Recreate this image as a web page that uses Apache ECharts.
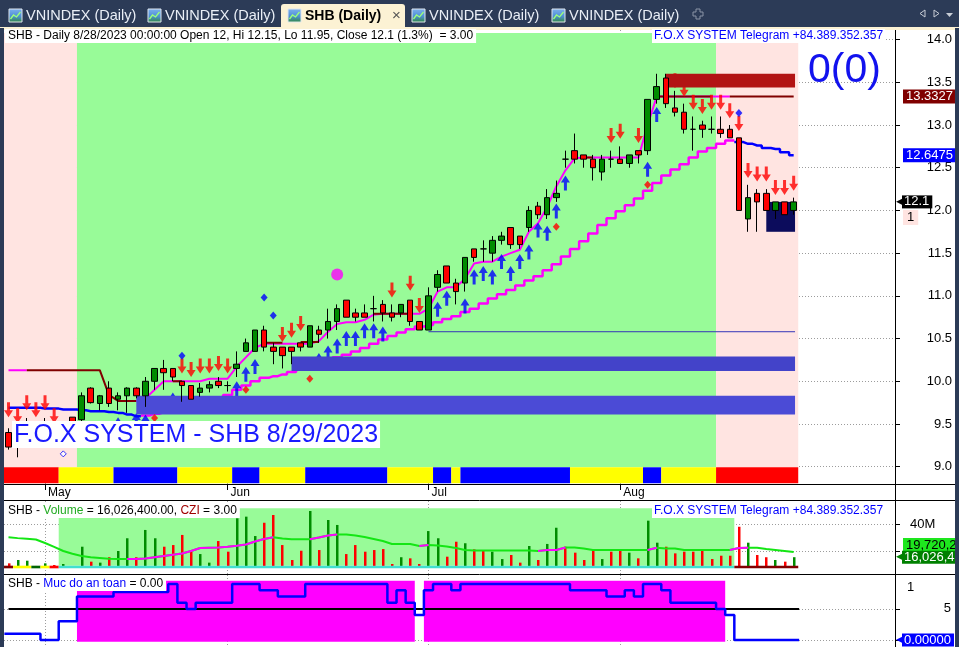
<!DOCTYPE html>
<html>
<head>
<meta charset="utf-8">
<title>SHB (Daily)</title>
<script src="https://cdn.jsdelivr.net/npm/echarts@6.0.0/dist/echarts.min.js"></script>
<style>
  html, body { margin: 0; padding: 0; background: #ffffff; overflow: hidden; }
  #chart { width: 959px; height: 647px; }
</style>
</head>
<body>
<div id="chart"></div>
<script>
// ================= DATA =================
const monthIdx   = [4, 24, 46, 67];
const monthNames = ['May', 'Jun', 'Jul', 'Aug'];

const open = [
  9.40, 9.25, 9.35, 9.45, 9.40, 9.45, 9.35, 9.58, 9.55, 9.92,
  9.74, 9.92, 9.79, 9.83, 9.92, 9.83,10.00,10.15,10.15,10.00,
  9.95, 9.87, 9.92,10.00, 9.95,10.15,10.35,10.35,10.60,10.40,
 10.40,10.40,10.45,10.40,10.60,10.60,10.70,10.95,10.80,10.80,
 10.85,10.90,10.80,10.80,10.95,10.70,10.60,11.10,11.35,11.15,
 11.15,11.55,11.55,11.50,11.65,11.80,11.70,11.80,12.05,11.95,
 12.15,12.60,12.70,12.65,12.60,12.45,12.60,12.60,12.55,12.70,
 12.70,13.30,13.55,13.20,13.15,12.95,13.00,12.95,12.95,12.95,
 12.85,11.90,12.20,12.20,12.00,12.10,12.00];
const high = [
  9.45, 9.35, 9.57, 9.50, 9.57, 9.50, 9.45, 9.58, 9.87, 9.93,
  9.84,10.00, 9.87, 9.93, 9.93,10.05,10.15,10.25,10.15,10.00,
  9.95, 9.98,10.00,10.05,10.00,10.35,10.50,10.60,10.65,10.45,
 10.40,10.40,10.45,10.65,10.65,10.85,10.90,10.95,10.85,10.90,
 11.00,10.95,10.90,10.90,10.95,10.70,11.10,11.30,11.35,11.20,
 11.45,11.55,11.65,11.70,11.75,11.80,11.70,12.05,12.10,12.25,
 12.35,12.70,12.90,12.65,12.65,12.65,12.70,12.75,12.65,12.70,
 13.30,13.60,13.60,13.40,13.25,13.10,13.05,13.10,13.10,13.00,
 12.85,12.30,12.25,12.25,12.10,12.10,12.15];
const low = [
  9.20, 9.11, 9.30, 9.30, 9.35, 9.30, 9.30, 9.40, 9.50, 9.74,
  9.66, 9.70, 9.66, 9.63, 9.80, 9.70, 9.90, 9.90,10.00, 9.76,
  9.79, 9.82, 9.87, 9.92, 9.88,10.05,10.35,10.35,10.35,10.20,
 10.15,10.20,10.35,10.40,10.45,10.50,10.60,10.75,10.70,10.75,
 10.70,10.70,10.70,10.75,10.65,10.60,10.60,11.05,11.15,10.90,
 11.05,11.40,11.40,11.40,11.60,11.55,11.55,11.75,11.90,11.90,
 12.10,12.50,12.55,12.50,12.35,12.35,12.50,12.55,12.50,12.55,
 12.65,13.25,13.20,13.10,12.90,12.70,12.85,12.90,12.85,12.85,
 12.00,11.75,11.75,12.00,11.90,11.95,11.95];
const close = [
  9.23, 9.30, 9.45, 9.40, 9.45, 9.35, 9.40, 9.45, 9.83, 9.75,
  9.83, 9.74, 9.83, 9.92, 9.83,10.00,10.15,10.10,10.05, 9.95,
  9.79, 9.92, 9.96, 9.95, 9.95,10.20,10.45,10.60,10.40,10.35,
 10.30,10.35,10.40,10.65,10.55,10.70,10.85,10.75,10.75,10.75,
 10.85,10.80,10.75,10.90,10.70,10.60,11.00,11.25,11.15,11.05,
 11.45,11.45,11.55,11.65,11.70,11.60,11.60,12.00,11.95,12.15,
 12.20,12.60,12.60,12.60,12.50,12.60,12.60,12.55,12.65,12.65,
 13.30,13.45,13.25,13.15,12.95,12.95,12.95,12.95,12.90,12.85,
 12.00,12.15,12.10,12.00,12.10,11.95,12.10];
// volume in millions of shares
const volume = [
 11.6,14.0,13.5, 9.7,11.6,10.4,11.1, 9.2,23.6,12.8,
 12.1,16.0,20.5,29.7,16.0,35.7,29.7,23.6,24.8,32.1,
 20.0,18.3,12.1,27.7,20.0,44.1,45.3,31.3,40.9,46.5,
 24.8,14.0,20.7,49.4,21.2,42.9,39.3,18.3,24.8,20.0,
 21.2,21.9,11.1,16.0,15.2,11.1,34.9,29.7,16.4,27.2,
 26.1,21.7,21.2,20.0,14.7,17.6,12.1,24.1,14.0,25.6,
 37.3,23.6,19.3,14.0,20.7,14.7,20.0,21.2,19.3,15.2,
 42.4,26.5,23.6,18.8,20.0,20.0,21.7,14.7,17.1,17.1,
 38.0,26.5,17.6,16.0,14.0,12.8,16.0264];
const volumeMA = [
 30.4,29.8,29.3,28.8,26.3,23.5,20.5,18.5,16.9,16.0,
 15.5,14.9,14.7,14.7,14.8,15.1,16.0,16.9,17.8,18.7,
 20.5,22.7,22.9,23.0,23.6,24.3,25.2,27.4,29.2,30.4,
 29.5,29.0,29.0,29.0,30.3,31.7,32.4,32.4,31.7,30.6,
 29.2,27.7,25.6,25.6,25.6,24.1,24.8,24.5,23.8,22.7,
 21.2,20.9,20.9,20.9,20.9,20.9,20.9,20.9,20.5,21.2,
 21.2,23.0,23.0,22.3,21.2,21.2,21.2,21.2,21.2,21.2,
 21.2,22.9,22.3,22.3,21.2,21.2,21.2,21.2,21.2,21.2,
 22.7,22.9,22.9,21.9,21.2,20.5,19.72023];
// fast trailing stop (magenta), resistance (dark red), slow stop (magenta/blue)
const fastStop = [
 10.13,10.13,10.13,null,null,null,null,null,null,null,
 null,null,null,9.77,9.77,9.80,9.90,10.00,10.00,10.00,
 10.00,10.00,10.03,10.03,10.03,10.17,10.28,10.39,10.44,10.44,
 10.44,10.44,10.44,10.44,10.47,10.58,10.67,10.69,10.69,10.72,
 10.78,10.79,10.79,10.79,10.79,10.79,10.85,11.05,11.10,11.10,
 11.20,11.38,11.40,11.40,11.46,11.50,11.54,11.75,11.85,12.04,
 12.28,12.47,12.61,12.62,12.62,12.62,12.62,12.62,12.62,12.62,
 13.00,13.3327,13.3327,13.3327,13.3327,13.3327,13.3327,13.3327,13.3327,13.3327,
 null,null,null,null,null,null,null];
const resistance = [
 null,null,10.13,10.13,10.13,10.13,10.13,10.13,10.13,10.13,
 10.13,9.84,9.77,9.77,9.77,null,null,null,10.00,10.00,
 null,null,null,null,null,null,null,null,10.45,10.45,
 10.45,null,10.46,10.46,10.46,null,null,null,null,null,
 10.79,10.79,10.79,10.79,10.79,null,null,null,null,null,
 null,null,null,null,null,null,null,null,null,null,
 null,null,null,12.62,12.62,null,null,null,null,null,
 null,13.3327,13.3327,13.3327,13.3327,13.3327,13.3327,13.3327,null,13.3327,
 13.3327,13.3327,13.3327,13.3327,13.3327,13.3327,13.3327];
const slowStop = [
  9.69, 9.69, 9.69, 9.69, 9.68, 9.68, 9.67, 9.67, 9.66, 9.65,
  9.65, 9.64, 9.63, 9.61, 9.59, 9.60, 9.62, 9.64, 9.66, 9.68,
  9.70, 9.73, 9.76, 9.80, 9.84, 9.90, 9.95,10.00,10.04,10.06,
 10.08,10.11,10.15,10.18,10.21,10.24,10.28,10.31,10.35,10.39,
 10.44,10.49,10.53,10.57,10.61,10.64,10.66,10.69,10.73,10.76,
 10.81,10.85,10.91,10.97,11.02,11.07,11.12,11.18,11.23,11.30,
 11.37,11.46,11.55,11.64,11.73,11.83,11.91,11.99,12.06,12.14,
 12.23,12.32,12.41,12.48,12.54,12.62,12.69,12.73,12.78,12.82,
 12.80,12.78,12.76,12.73,12.72,12.68,12.6475];
// per-bar state codes
const slowTrend   = 'DDDDDDDDDD DDDDDUUUUU UUUUUUUUUU UUUUUUUUUU UUUUUUUUUU UUUUUUUUUU UUUUUUUUUU UUUUUUUUUU DDDDDDD'.replace(/ /g, '').split('');
const trendZone   = 'PPPPPPPPGG GGGGGGGGGG GGGGGGGGGG GGGGGGGGGG GGGGGGGGGG GGGGGGGGGG GGGGGGGGGG GGGGGGGGPP PPPPPPP'.replace(/ /g, '').split('');
const signalStrip = 'RRRRRR YYYYYY BBBBBBB YYYYYY BBB YYYYY BBBBBBBBB YYYYY BB Y BBBBBBBBBBBB YYYYYYYY BB YYYYYY RRRRRRRRR'.replace(/ /g, '').split('');
const volumeZone  = '------GGGG GGGGGGGGGG GGGGGGGGGG GGGGGGGGGG GGGGGGGGGG GGGGGGGGGG GGGGGGGGGG GGGGGGGGGG -------'.replace(/ /g, '').split('');
const volumeStrip = 'MYYKYRCCCC CCCCCCCCCC CCCCCCCCCC CCCCCCCCCC CCCCCCCCCC CCCCCCCCCC CCCCCCCCCC CCCCCCCCCC MMMMMMM'.replace(/ /g, '').split('');
const safety = [
 10,10,10,10, 0, 0,30,30,70,70,
 70,70,77,77,77,77,77,77,90,60,
 50,60,60,60,60,90,90,90,80,80,
 70,70,70,90,90,90,90,90,90,90,
 90,90,60,80,60,40,80,90,90,80,
 90,90,90,90,90,90,90,90,90,90,
 90,90,80,80,80,80,70,70,80,70,
 90,90,80,60,60,60,60,60,50,40,
  0, 0, 0, 0, 0, 0, 0];
const safeZone    = '00000000 1111111111 1111111111 1111111111 1111111 0 1111111111 1111111111 1111111111 111 00000000'.replace(/ /g, '').split('');
const safetyLevel = 50;
// signals: [bar, price]
const sellArrows = [[0,9.58],[1,9.51],[2,9.66],[3,9.58],[4,9.66],[5,9.51],[19,10.09],[20,10.05],[21,10.09],[22,10.09],[23,10.12],[24,10.09],
  [30,10.46],[31,10.51],[32,10.59],[42,10.98],[44,11.06],[45,10.80],[66,12.79],[67,12.84],[69,12.79],[73,13.43],[74,13.33],[75,13.18],
  [76,13.13],[77,13.18],[78,13.18],[79,13.08],[80,12.93],[81,12.38],[82,12.34],[83,12.34],[84,12.18],[85,12.18],[86,12.23]];
const buyArrows = [[12,9.58],[14,9.63],[15,9.61],[18,9.87],[25,10.00],[26,10.17],[27,10.26],[34,10.33],[35,10.42],[36,10.50],[37,10.59],
  [38,10.59],[39,10.68],[40,10.68],[41,10.64],[47,10.93],[48,11.06],[50,10.97],[51,11.31],[52,11.35],[53,11.31],[54,11.49],[55,11.35],
  [56,11.49],[57,11.60],[58,11.86],[59,11.82],[60,12.08],[61,12.41],[70,12.57],[71,13.21]];
const blueDots   = [[19,10.30],[28,10.98],[29,10.77],[80,13.14]];
const redDots    = [[16,9.57],[26,9.90],[33,10.03],[60,11.81],[70,12.30]];
const bigDots    = [[36,11.25]];
const hollowDots = [[6,9.15]];
// horizontal zones: start bar, end bar, low, high
const bandFrom = [14, 31, 72, 83];
const bandTo   = [86, 86, 86, 86];
const bandLow  = [9.61, 10.12, 13.44, 11.75];
const bandHigh = [9.83, 10.29, 13.60, 12.10];
const supportFrom = 46, supportTo = 86, supportLevel = 10.58;
const oneMarker = 11.917;   // the small "1" tag under the last price

// ================= LAYOUT / STYLE =================
const N = open.length;
const FONT = "'Liberation Sans', Arial, sans-serif";
const X_MIN = -0.4929, X_MAX = 97.0987;
const P_MIN = 8.7974,  P_MAX = 14.1124;
const V_MIN = 3.9,     V_MAX = 56.6;
const S_MIN = -11.25,  S_MAX = 104.47;
const ZONE_LO = 8.993, ZONE_HI = 14.077, STRIP_LO = 8.806;
const VZONE_LO = 9.9, VZONE_HI = 51.3, VSTRIP_LO = 8.0, VOL_BASE = 9.0;
const FILL_LO = -2.7, FILL_HI = 95.3;
const GREEN = '#008c00', RED = '#ff0000', MAGENTA = '#ff00ff', BLUE = '#0000ff', MAROON = '#800000';
const zoneColor  = {P: '#ffe4e1', G: '#98fb98'};
const stripColor = {R: '#ff0000', Y: '#ffff00', B: '#0000ff'};
const vStripColor = {M: '#800000', Y: '#ffff00', K: '#006400', R: '#ff0000', C: '#40e0d0'};
const bandColor = ['#4b4bd6', '#4343c9', '#b21414', '#0c0c5c'];
const NAVY = '#2c3b57', CREAM = '#fcf2d4';

// ================= BUILD =================
function runs(codes) {
  const out = []; let s = 0;
  for (let i = 1; i <= codes.length; i++) {
    if (i === codes.length || codes[i] !== codes[s]) { out.push([s, i - 1, codes[s]]); s = i; }
  }
  return out;
}
function rectItem(params, api) {
  const a = api.coord([api.value(0), api.value(3)]);
  const b = api.coord([api.value(1), api.value(2)]);
  return {type: 'rect', shape: {x: a[0], y: a[1], width: b[0] - a[0], height: b[1] - a[1]},
          style: {fill: api.visual('color')}};
}
function rectSeries(name, gi, yi, z, items) {
  return {type: 'custom', name, xAxisIndex: gi, yAxisIndex: yi, z, silent: true,
          renderItem: rectItem, encode: {x: [0, 1], y: [2, 3]}, data: items};
}
function runRects(codes, colors, lo, hi) {
  return runs(codes).filter(r => colors[r[2]]).map(([a, b, c]) =>
    ({value: [a - 0.5, b + 0.5, lo, hi], itemStyle: {color: colors[c]}}));
}
const pts = arr => arr.map((v, i) => [i, v]);
const isUp = i => close[i] > open[i];

const candleData = open.map((o, i) => [i, o, close[i], low[i], high[i]]);
const slowUp   = slowStop.map((v, i) => [i, slowTrend[i] === 'U' ? v : null]);
const slowDown = slowStop.map((v, i) => [i, slowTrend[i] === 'D' ? v : null]);
const maRise = volumeMA.map((v, i) => {
  const r = (i > 0 && v > volumeMA[i - 1]) || (i < N - 1 && volumeMA[i + 1] > v);
  return [i, r ? v : null];
});
const safetyLine = [[-0.45, safety[0]]].concat(pts(safety), [[N - 0.4, safety[N - 1]]]);

const fmt = v => String(+v.toFixed(2));
const L = N - 1;
const pct = ((close[L] - close[L - 1]) / close[L - 1] * 100).toFixed(1);
const titleText = `SHB - Daily 8/28/2023 00:00:00 Open ${fmt(open[L])}, Hi ${fmt(high[L])}, Lo ${fmt(low[L])}, Close ${fmt(close[L])} (${pct}%)  = 3.00`;
const volText = Math.round(volume[L] * 1e6).toLocaleString('en-US') + '.00';
const volMAText = Math.round(volumeMA[L] * 1e6).toLocaleString('en-US');

const downArrow = 'path://M3,0 L6,0 L6,8 L9,8 L4.5,15 L0,8 L3,8 Z';
const upArrow   = 'path://M4.5,0 L9,7 L6,7 L6,15 L3,15 L3,7 L0,7 Z';

function markerAxis(gi, min, max, value, label) {
  return {type: 'value', gridIndex: gi, position: 'right', min, max,
    axisLine: {show: false, onZero: false}, axisTick: {show: false}, splitLine: {show: false},
    axisLabel: Object.assign({customValues: [value], margin: 8, align: 'left', fontSize: 13,
      fontFamily: FONT, lineHeight: 14}, label)};
}
function pointer(bg, fg, text) {
  return {
    margin: 1,
    formatter: () => '{p|◀}{b|' + text + '}',
    rich: {
      p: {color: bg, fontSize: 16, fontFamily: 'DejaVu Sans', lineHeight: 14, width: 6, align: 'left'},
      b: {color: fg, backgroundColor: bg, fontSize: 13, fontFamily: FONT, lineHeight: 14, padding: [0, 3, 0, 2]}
    }
  };
}
const dotted = {color: '#9c9c9c', type: [1, 2], width: 1};

const xBase = gi => ({
  type: 'value', gridIndex: gi, min: X_MIN, max: X_MAX,
  axisLine: {show: gi === 0, onZero: false, lineStyle: {color: '#000'}},
  axisTick: {show: gi === 0, customValues: monthIdx, length: 6, lineStyle: {color: '#000'}},
  axisLabel: gi === 0 ? {customValues: monthIdx, formatter: v => monthNames[monthIdx.indexOf(Math.round(v))] || '',
      align: 'left', margin: 3, padding: [0, 0, 0, 3], fontSize: 12, color: '#000', fontFamily: FONT}
    : {show: false},
  splitLine: {show: true, lineStyle: dotted}
});

const priceTicks = [9, 9.5, 10, 10.5, 11, 11.5, 12, 12.5, 13, 13.5, 14];

const yAxes = [
  // 0 main price
  {type: 'value', gridIndex: 0, position: 'right', min: P_MIN, max: P_MAX,
   axisLine: {show: true, onZero: false, lineStyle: {color: '#000'}},
   axisTick: {show: true, customValues: priceTicks, length: 5, lineStyle: {color: '#000'}},
   axisLabel: {customValues: priceTicks, formatter: v => v.toFixed(1), align: 'right', margin: 57,
     fontSize: 13, color: '#000', fontFamily: FONT},
   splitLine: {show: true, lineStyle: dotted}},
  // 1..4 markers
  markerAxis(0, P_MIN, P_MAX, resistance[L], {formatter: v => v.toFixed(4), color: '#fff', backgroundColor: MAROON, padding: [0, 2, 0, 3]}),
  markerAxis(0, P_MIN, P_MAX, slowStop[L], {formatter: v => v.toFixed(4), color: '#fff', backgroundColor: BLUE, padding: [0, 2, 0, 3]}),
  markerAxis(0, P_MIN, P_MAX, close[L], pointer('#000', '#fff', fmt(close[L]))),
  markerAxis(0, P_MIN, P_MAX, oneMarker, {formatter: () => '1', color: '#000', backgroundColor: '#ffe4e1', padding: [1, 4, 0, 4]}),
  // 5 volume
  {type: 'value', gridIndex: 1, position: 'right', min: V_MIN, max: V_MAX,
   axisLine: {show: true, onZero: false, lineStyle: {color: '#000'}},
   axisTick: {show: true, customValues: [20, 40], length: 5, lineStyle: {color: '#000'}},
   axisLabel: {customValues: [40], formatter: v => Math.round(v) + 'M', align: 'left', margin: 15,
     fontSize: 13, color: '#000', fontFamily: FONT},
   splitLine: {show: true, lineStyle: dotted}},
  // 6,7 volume markers
  markerAxis(1, V_MIN, V_MAX, volumeMA[L], {formatter: () => volMAText, color: '#000', backgroundColor: '#1ee61e',
    verticalAlign: 'bottom', padding: [0, 2, 0, 3]}),
  markerAxis(1, V_MIN, V_MAX, volume[L], pointer('#008000', '#fff', Math.round(volume[L] * 1e6).toLocaleString('en-US'))),
  // 8 safety
  {type: 'value', gridIndex: 2, position: 'right', min: S_MIN, max: S_MAX,
   axisLine: {show: true, onZero: false, lineStyle: {color: '#000'}},
   axisTick: {show: true, customValues: [0, safetyLevel], length: 5, lineStyle: {color: '#000'}},
   axisLabel: {customValues: [safetyLevel], formatter: () => '5', align: 'right', margin: 56,
     fontSize: 13, color: '#000', fontFamily: FONT},
   splitLine: {show: true, lineStyle: dotted}},
  // 9 "1" label
  markerAxis(2, S_MIN, S_MAX, 85, {formatter: () => '1', color: '#000', margin: 12}),
  // 10 last value
  markerAxis(2, S_MIN, S_MAX, safety[L], pointer(BLUE, '#fff', safety[L].toFixed(5)))
];

const series = [
  // ---- main panel ----
  rectSeries('zone', 0, 0, 1, runRects(trendZone, zoneColor, ZONE_LO, ZONE_HI)),
  rectSeries('strip', 0, 0, 1, runRects(signalStrip, stripColor, STRIP_LO, ZONE_LO)),
  {type: 'line', name: 'slow up', xAxisIndex: 0, yAxisIndex: 0, z: 2, data: slowUp, step: 'middle',
   symbol: 'none', lineStyle: {color: MAGENTA, width: 2.5}, silent: true},
  {type: 'line', name: 'slow down', xAxisIndex: 0, yAxisIndex: 0, z: 2, data: slowDown, step: 'middle',
   symbol: 'none', lineStyle: {color: BLUE, width: 2.5}, silent: true},
  {type: 'line', name: 'fast stop', xAxisIndex: 0, yAxisIndex: 0, z: 3, data: pts(fastStop),
   symbol: 'none', lineStyle: {color: MAGENTA, width: 2}, silent: true},
  {type: 'line', name: 'resistance', xAxisIndex: 0, yAxisIndex: 0, z: 3, data: pts(resistance),
   symbol: 'none', lineStyle: {color: MAROON, width: 2}, silent: true},
  {type: 'line', name: 'support', xAxisIndex: 0, yAxisIndex: 0, z: 3,
   data: [[supportFrom, supportLevel], [supportTo + 0.15, supportLevel]],
   symbol: 'none', lineStyle: {color: '#3535b8', width: 1}, silent: true},
  {type: 'scatter', name: 'sell', xAxisIndex: 0, yAxisIndex: 0, z: 4, data: sellArrows,
   symbol: downArrow, symbolSize: [9, 15], symbolOffset: [0, -7.5], itemStyle: {color: RED}, silent: true},
  {type: 'scatter', name: 'buy', xAxisIndex: 0, yAxisIndex: 0, z: 4, data: buyArrows,
   symbol: upArrow, symbolSize: [9, 15], symbolOffset: [0, 7.5], itemStyle: {color: BLUE}, silent: true},
  rectSeries('bands', 0, 0, 5, bandFrom.map((f, k) =>
    ({value: [f, bandTo[k] + 0.15, bandLow[k], bandHigh[k]], itemStyle: {color: bandColor[k]}}))),
  {type: 'candlestick', name: 'SHB', xAxisIndex: 0, yAxisIndex: 0, z: 6,
   dimensions: ['i', 'open', 'close', 'low', 'high'],
   encode: {x: 'i', y: ['open', 'close', 'low', 'high']},
   data: candleData, barWidth: 6, silent: true,
   itemStyle: {color: GREEN, color0: RED, borderColor: '#000', borderColor0: '#000', borderWidth: 1}},
  {type: 'scatter', name: 'blue dots', xAxisIndex: 0, yAxisIndex: 0, z: 7, data: blueDots,
   symbol: 'diamond', symbolSize: [7, 8], itemStyle: {color: BLUE}, silent: true},
  {type: 'scatter', name: 'red dots', xAxisIndex: 0, yAxisIndex: 0, z: 7, data: redDots,
   symbol: 'diamond', symbolSize: [7, 8], itemStyle: {color: RED}, silent: true},
  {type: 'scatter', name: 'big dot', xAxisIndex: 0, yAxisIndex: 0, z: 7, data: bigDots,
   symbol: 'circle', symbolSize: 12, itemStyle: {color: MAGENTA}, silent: true},
  {type: 'scatter', name: 'hollow', xAxisIndex: 0, yAxisIndex: 0, z: 7, data: hollowDots,
   symbol: 'diamond', symbolSize: 6, itemStyle: {color: '#fff', borderColor: BLUE, borderWidth: 1}, silent: true},
  // ---- volume panel ----
  rectSeries('vzone', 1, 5, 1, runRects(volumeZone, {G: '#98fb98'}, VZONE_LO, VZONE_HI)),
  {type: 'custom', name: 'Volume', xAxisIndex: 1, yAxisIndex: 5, z: 3, silent: true,
   encode: {x: 0, y: 1},
   data: volume.map((v, i) => ({value: [i, v], itemStyle: {color: isUp(i) ? GREEN : RED}})),
   renderItem: (params, api) => {
     const t = api.coord([api.value(0), api.value(1)]);
     const b = api.coord([api.value(0), VOL_BASE]);
     return {type: 'rect', shape: {x: Math.round(t[0]) - 1, y: t[1], width: 2.5, height: b[1] - t[1]},
             style: {fill: api.visual('color')}};
   }},
  rectSeries('vstrip', 1, 5, 4, runRects(volumeStrip, vStripColor, VSTRIP_LO, VZONE_LO)),
  {type: 'line', name: 'vma', xAxisIndex: 1, yAxisIndex: 5, z: 5, data: pts(volumeMA),
   symbol: 'none', lineStyle: {color: '#14e614', width: 2}, silent: true},
  {type: 'line', name: 'vma up', xAxisIndex: 1, yAxisIndex: 5, z: 5, data: maRise,
   symbol: 'none', lineStyle: {color: MAGENTA, width: 2}, silent: true},
  // ---- safety panel ----
  rectSeries('safe', 2, 8, 1, runRects(safeZone, {'1': '#ff00ff'}, FILL_LO, FILL_HI)),
  {type: 'line', name: 'level', xAxisIndex: 2, yAxisIndex: 8, z: 2,
   data: [[0, safetyLevel], [N - 0.4, safetyLevel]],
   symbol: 'none', lineStyle: {color: '#000', width: 2}, silent: true},
  {type: 'line', name: 'Muc do an toan', xAxisIndex: 2, yAxisIndex: 8, z: 3, data: safetyLine, step: 'middle',
   symbol: 'none', lineStyle: {color: BLUE, width: 2.5}, silent: true}
];

// ---- window chrome / captions ----
function tabIcon(x) {
  return [
    {type: 'rect', shape: {x: x, y: 9, width: 13, height: 13}, z: 102,
     style: {fill: {type: 'linear', x: 0, y: 0, x2: 0, y2: 1,
       colorStops: [{offset: 0, color: '#7fb2ee'}, {offset: 0.55, color: '#4f8fd6'}, {offset: 1, color: '#2f8a3a'}]},
       stroke: '#dfe6ef', lineWidth: 1}},
    {type: 'polyline', shape: {points: [[x + 1.5, 19], [x + 4.5, 15], [x + 7.5, 17], [x + 11.5, 12]]}, z: 103,
     style: {stroke: '#9cff7a', lineWidth: 1.3, fill: null}}
  ];
}
const tabs = [
  {x: 9, label: 'VNINDEX (Daily)'}, {x: 148, label: 'VNINDEX (Daily)'},
  {x: 288, label: 'SHB (Daily)', active: true},
  {x: 412, label: 'VNINDEX (Daily)'}, {x: 552, label: 'VNINDEX (Daily)'}
];
const graphics = [
  {type: 'rect', shape: {x: 0, y: 0, width: 959, height: 28}, z: 100, style: {fill: NAVY}},
  {type: 'rect', shape: {x: 0, y: 27, width: 959, height: 3}, z: 100, style: {fill: CREAM}},
  {type: 'rect', shape: {x: 281, y: 4, width: 124, height: 26, r: [3, 3, 0, 0]}, z: 101, style: {fill: CREAM}},
  {type: 'rect', shape: {x: 0, y: 28, width: 4, height: 619}, z: 110, style: {fill: NAVY}},
  {type: 'rect', shape: {x: 955, y: 28, width: 4, height: 619}, z: 110, style: {fill: NAVY}},
  {type: 'text', x: 392, y: 16, z: 102, style: {text: '×', fill: '#555', font: '15px ' + FONT, verticalAlign: 'middle'}},
  {type: 'polygon', z: 102, shape: {points: [[696,9],[700,9],[700,12],[703,12],[703,16],[700,16],[700,19],[696,19],[696,16],[693,16],[693,12],[696,12]]},
   style: {fill: null, stroke: '#8a94a6', lineWidth: 1}},
  {type: 'polyline', z: 102, shape: {points: [[925,10],[920,13.5],[925,17],[925,10]]}, style: {fill: null, stroke: '#c8cdd6'}},
  {type: 'polyline', z: 102, shape: {points: [[934,10],[939,13.5],[934,17],[934,10]]}, style: {fill: null, stroke: '#c8cdd6'}},
  {type: 'polygon', z: 102, shape: {points: [[946,13],[953,13],[949.5,17]]}, style: {fill: '#c8cdd6'}},
  // panel separators & axis line
  {type: 'line', z: 105, shape: {x1: 4, y1: 484.5, x2: 955, y2: 484.5}, style: {stroke: '#000', lineWidth: 1}},
  {type: 'line', z: 105, shape: {x1: 4, y1: 500.5, x2: 955, y2: 500.5}, style: {stroke: '#000', lineWidth: 1}},
  {type: 'line', z: 105, shape: {x1: 4, y1: 574.5, x2: 955, y2: 574.5}, style: {stroke: '#000', lineWidth: 1}},
  {type: 'line', z: 105, shape: {x1: 895.5, y1: 30, x2: 895.5, y2: 647}, style: {stroke: '#000', lineWidth: 1}},
  // captions
  {type: 'text', x: 5, y: 29, z: 106, style: {text: titleText, fill: '#000', font: '12px ' + FONT,
    backgroundColor: '#fff', padding: [1, 3, 1, 3]}},
  {type: 'text', x: 652, y: 29, z: 106, style: {text: 'F.O.X SYSTEM Telegram +84.389.352.357', fill: '#0000ff',
    font: '12px ' + FONT, backgroundColor: '#fff', padding: [1, 2, 1, 2]}},
  {type: 'text', x: 808, y: 50, z: 106, style: {text: '0(0)', fill: '#1212ee', font: '41px ' + FONT}},
  {type: 'text', x: 12, y: 421, z: 106, style: {text: 'F.O.X SYSTEM - SHB 8/29/2023', fill: '#1a1aff',
    font: '25px ' + FONT, backgroundColor: '#fff', padding: [1, 2, 0, 2], lineHeight: 26}},
  {type: 'text', x: 5, y: 504, z: 106, style: {
    text: '{k|SHB - }{g|Volume}{k| = ' + volText + ', }{r|CZI}{k| = 3.00}',
    backgroundColor: '#fff', padding: [1, 3, 1, 3],
    rich: {k: {fill: '#000', font: '12px ' + FONT}, g: {fill: '#22aa22', font: '12px ' + FONT},
           r: {fill: '#a00000', font: '12px ' + FONT}}}},
  {type: 'text', x: 652, y: 504, z: 106, style: {text: 'F.O.X SYSTEM Telegram +84.389.352.357', fill: '#0000ff',
    font: '12px ' + FONT, backgroundColor: '#fff', padding: [1, 2, 1, 2]}},
  {type: 'text', x: 5, y: 577, z: 106, style: {
    text: '{k|SHB - }{b|Muc do an toan}{k| = ' + safety[L].toFixed(2) + '}',
    backgroundColor: '#fff', padding: [1, 3, 1, 3],
    rich: {k: {fill: '#000', font: '12px ' + FONT}, b: {fill: '#0000ff', font: '12px ' + FONT}}}}
];
tabs.forEach(t => {
  graphics.push(...tabIcon(t.x));
  graphics.push({type: 'text', x: t.x + 17, y: 16, z: 102, style: {
    text: t.label, fill: t.active ? '#000' : '#e9eef6',
    font: (t.active ? 'bold 14px ' : '14.5px ') + FONT, verticalAlign: 'middle'}});
});

const chart = echarts.init(document.getElementById('chart'), null, {renderer: 'canvas'});
chart.setOption({
  animation: false,
  backgroundColor: '#ffffff',
  textStyle: {fontFamily: FONT},
  grid: [
    {left: 4, right: 64, top: 30, height: 454, outerBoundsMode: 'none', containLabel: false},
    {left: 4, right: 64, top: 501, height: 73, outerBoundsMode: 'none', containLabel: false},
    {left: 4, right: 64, top: 575, height: 72, outerBoundsMode: 'none', containLabel: false}
  ],
  xAxis: [xBase(0), xBase(1), xBase(2)],
  yAxis: yAxes,
  series: series,
  graphic: {elements: graphics}
});
</script>
</body>
</html>
